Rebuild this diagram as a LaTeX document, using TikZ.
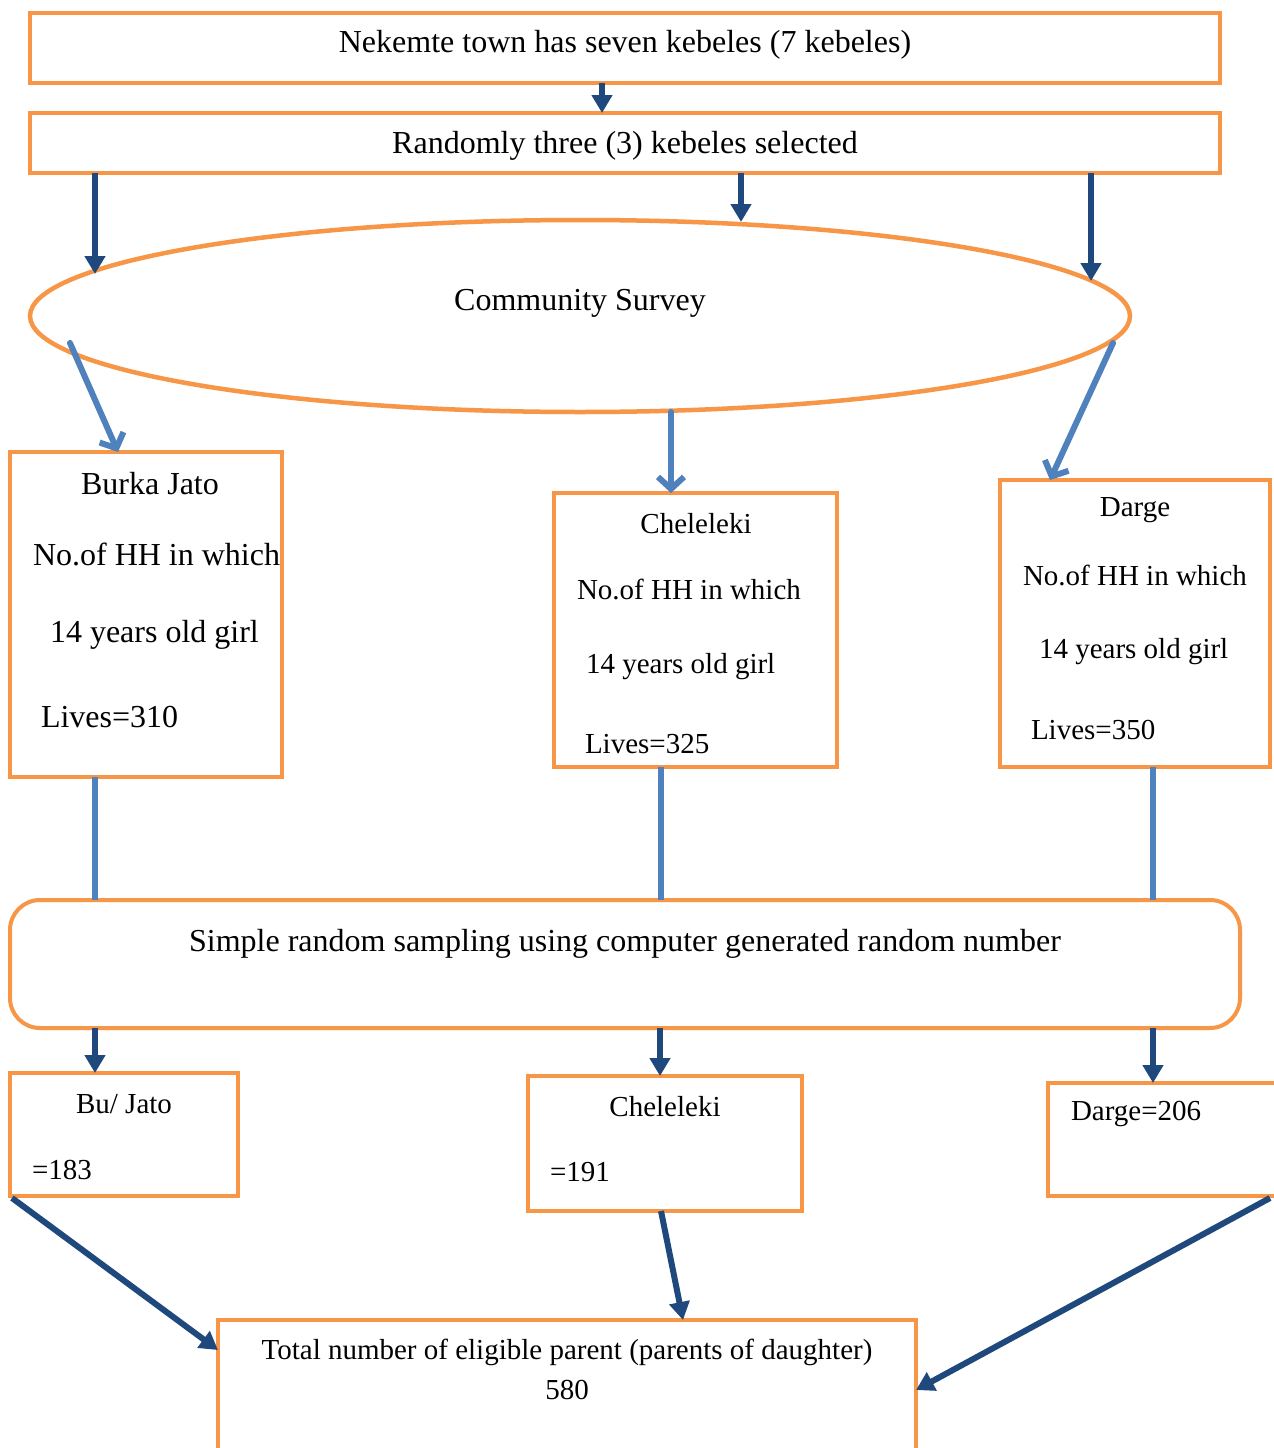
\documentclass[tikz,border=0pt]{standalone}
\usepackage{fontspec}
\setmainfont{Liberation Serif}
\usetikzlibrary{shapes.geometric,arrows.meta,calc}
\definecolor{borange}{HTML}{F79646}
\definecolor{dblue}{HTML}{1F497D}
\definecolor{lblue}{HTML}{4F81BD}
\begin{document}
\begin{tikzpicture}[x=1pt,y=-1pt,
  big/.style={font=\fontsize{32}{38}\selectfont},
  sml/.style={font=\fontsize{29}{35}\selectfont},
  box/.style={draw=borange, line width=4pt, inner sep=0pt, outer sep=0pt},
  txt/.style={inner sep=0pt, outer sep=0pt},
  darr/.style={draw=dblue, line width=6pt, -{Triangle[length=18pt,width=20pt]}},
  larr/.style={draw=lblue, line width=6pt, line cap=round, -{Straight Barb[length=12pt,width=26pt,line width=6pt]}},
  lline/.style={draw=lblue, line width=6pt}]
\clip (0,0) rectangle (1274,1448);
\fill[white] (0,0) rectangle (1274,1448);

% boxes
\node[box,minimum width=1190pt,minimum height=70pt] (b1) at (625,48) {};
\node[txt,big] (t1) at (625,45) {Nekemte town has seven kebeles (7 kebeles)};
\node[box,minimum width=1190pt,minimum height=60pt] (b2) at (625,143) {};
\node[txt,big] (t2) at (625,146) {Randomly three (3) kebeles selected};
\node[box,ellipse,line width=4.5pt,minimum width=1100pt,minimum height=192pt] (ell) at (580,316) {};
\node[txt,big] (tcs) at (580,303) {Community Survey};

\node[box,minimum width=272pt,minimum height=325pt] (bk1) at (146,614.5) {};
\node[box,minimum width=283pt,minimum height=274pt] (bk2) at (695.5,630) {};
\node[box,minimum width=270pt,minimum height=287pt] (bk3) at (1135,623.5) {};

\node[txt,big] (k1a) at (150,484) {Burka Jato};
\node[txt,big,anchor=west] (k1b) at (33,554) {No.of HH in which};
\node[txt,big,anchor=west] (k1c) at (50,635) {14 years old girl};
\node[txt,big,anchor=west] (k1d) at (41,717) {Lives=310};

\node[txt,sml] (k2a) at (696,524) {Cheleleki};
\node[txt,sml,anchor=west] (k2b) at (577,589) {No.of HH in which};
\node[txt,sml,anchor=west] (k2c) at (586,667) {14 years old girl};
\node[txt,sml,anchor=west] (k2d) at (585,744) {Lives=325};

\node[txt,sml] (k3a) at (1135,510) {Darge};
\node[txt,sml,anchor=west] (k3b) at (1023,575) {No.of HH in which};
\node[txt,sml,anchor=west] (k3c) at (1039,652) {14 years old girl};
\node[txt,sml,anchor=west] (k3d) at (1031,730) {Lives=350};

\node[box,rounded corners=30pt,minimum width=1230pt,minimum height=128pt] (srs) at (625,964) {};
\node[txt,big] (tsrs) at (625,944) {Simple random sampling using computer generated random number};

\node[box,minimum width=228pt,minimum height=123pt] (s1) at (124,1134.5) {};
\node[box,minimum width=274pt,minimum height=135pt] (s2) at (665,1143.5) {};
\node[box,minimum width=242pt,minimum height=113pt] (s3) at (1169,1139.5) {};
\node[txt,sml] (s1a) at (124,1104) {Bu/ Jato};
\node[txt,sml,anchor=west] (s1b) at (32,1170) {=183};
\node[txt,sml] (s2a) at (665,1107) {Cheleleki};
\node[txt,sml,anchor=west] (s2b) at (550,1172) {=191};
\node[txt,sml,anchor=west] (s3a) at (1071,1114) {Darge=206};

\node[box,minimum width=698pt,minimum height=150pt] (tot) at (567,1395) {};
\node[txt,sml] (tt1) at (567,1352) {Total number of eligible parent (parents of daughter)};
\node[txt,sml] (tt2) at (567,1390) {580};

% connector end points
\coordinate (e1) at (95,274);
\coordinate (e2) at (741,222);
\coordinate (e3) at (1091,281);
\coordinate (f1) at (70,343);
\coordinate (f2) at (671,412);
\coordinate (f3) at (1113,343);
\coordinate (g3) at (1270,1198);

% connectors
\draw[darr] ([xshift=-23pt]b1.south) -- ([xshift=-23pt]b2.north);
\draw[darr] ([xshift=65pt]b2.south west) -- (e1);
\draw[darr] ([xshift=116pt]b2.south) -- (e2);
\draw[darr] ([xshift=466pt]b2.south) -- (e3);

\draw[larr] (f1) -- ([xshift=108pt]bk1.north west);
\draw[larr] (f2) -- ([xshift=-24.5pt]bk2.north);
\draw[larr] (f3) -- ([xshift=50pt]bk3.north west);

\draw[lline] ([xshift=85pt]bk1.south west) -- ([xshift=85pt]srs.north west);
\draw[lline] ([xshift=-34.5pt]bk2.south) -- ([xshift=36pt]srs.north);
\draw[lline] ([xshift=18pt]bk3.south) -- ([xshift=528pt]srs.north);

\draw[darr] ([xshift=85pt]srs.south west) -- ([xshift=85pt]s1.north west);
\draw[darr] ([xshift=35pt]srs.south) -- ([xshift=-5pt]s2.north);
\draw[darr] ([xshift=528pt]srs.south) -- ([xshift=105pt]s3.north west);

\draw[darr] ([xshift=2pt,yshift=-2pt]s1.south west) -- ([yshift=-30pt]tot.north west);
\draw[darr] ([xshift=-4pt]s2.south) -- ([xshift=116pt]tot.north);
\draw[darr] (g3) -- ([yshift=-70pt]tot.north east);
\end{tikzpicture}
\end{document}
